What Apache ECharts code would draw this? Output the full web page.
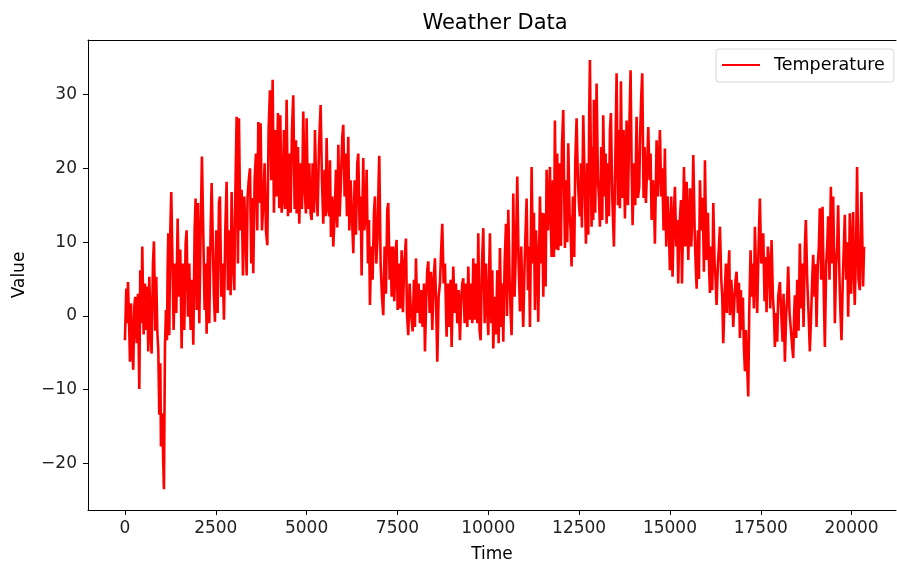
<!DOCTYPE html>
<html>
<head>
<meta charset="utf-8">
<title>Weather Data</title>
<script src="https://cdn.jsdelivr.net/npm/echarts@6/dist/echarts.min.js"></script>
<style>
  html, body { margin: 0; padding: 0; background: #fff; }
  #chart { width: 897px; height: 568px; }
</style>
</head>
<body>
<div id="chart"></div>
<script>
// sample index (time) and temperature
var times = [
  0,37,64,83,119,138,165,202,229,257,284,321,358,395,422,450,477,514,551,587,
  615,642,670,706,734,771,798,835,862,890,918,945,973,991,1028,1055,1073,1101,1129,1156,
  1174,1193,1220,1248,1275,1312,1340,1376,1413,1450,1486,1523,1560,1596,1633,1670,1697,1734,1771,1807,
  1844,1881,1918,1945,1973,2009,2046,2083,2119,2156,2193,2220,2248,2285,2321,2358,2386,2413,2450,2477,
  2514,2551,2587,2615,2652,2688,2725,2762,2798,2835,2872,2908,2936,2973,3009,3037,3074,3110,3138,3175,
  3211,3248,3285,3321,3349,3376,3404,3441,3477,3514,3532,3569,3606,3642,3670,3707,3734,3771,3808,3844,
  3881,3918,3954,3991,4028,4065,4101,4138,4175,4211,4248,
  4276,4312,4340,4376,4413,4450,4487,4523,4560,4597,4633,4670,4707,4725,4762,4798,4835,4872,4908,4945,
  4982,5000,5037,5074,5110,5138,5165,5202,5230,5266,5303,5340,5386,5422,5459,5496,5523,5551,5587,5624,
  5643,5670,5707,5734,5771,5808,5844,5872,5909,5945,5982,6009,6046,6074,6110,6147,6175,6211,6248,6285,
  6321,6358,6395,6422,6459,6486,6514,6541,6560,6587,6624,6652,6688,6716,6743,6780,6817,6853,6881,6917,
  6954,6982,7000,7037,7074,7110,7147,7184,7220,7248,7285,7312,7340,7376,7413,7450,7477,7505,7541,7578,
  7615,7651,7688,7734,7762,7798,7835,7872,7918,7954,7982,8009,8046,8083,8120,8156,8193,8230,8257,8294,
  8321,8349,8386,8422,8459,8496,8532,8569,8597,8633,8670,8707,8734,8771,8808,8853,8890,8927,8964,8991,
  9019,9037,9074,9110,9147,9184,9220,9257,9285,9312,9349,9386,9422,9450,9486,9523,9560,9587,9624,9661,
  9697,9725,9761,
  9790,9826,9863,9900,9936,9973,10001,10028,10046,10083,10111,10138,10175,10212,10248,10285,10321,10358,10386,10413,
  10450,10487,10514,10551,10587,10615,10642,10670,10688,10725,10762,10798,10835,10872,10908,10936,10963,11000,11028,11055,
  11092,11119,11147,11174,11193,11229,11257,11284,11312,11348,11376,11403,11422,11458,11486,11514,11550,11578,11605,11642,
  11669,11697,11724,11743,11779,11807,11834,11871,11899,11926,11963,11999,12027,12064,12091,12110,12146,12174,12201,12238,
  12266,12293,12330,12366,12394,12431,12467,12495,12522,12550,12577,12614,12651,12688,12724,12752,12779,12798,12825,12843,
  12871,12889,12908,12944,12981,13018,13045,13073,13109,13137,13164,13201,13229,13256,13293,13320,13348,13375,13412,13458,
  13495,13532,13568,13596,13623,13651,13687,13724,13761,13788,13807,13843,13880,13917,13944,13972,14008,14045,14082,14119,
  14155,14183,14210,14238,14274,14302,14339,14375,14403,14440,14467,14495,14531,14559,14586,14614,14632,14669,14696,14724,
  14761,14788,14825,14861,14898,14935,14972,14999,15036,15072,15109,15137,15173,15201,15228,15256,
  15304,15331,15359,15386,15423,15460,15505,15551,15588,15615,15643,15680,15707,15735,15771,15799,15826,15863,15900,15936,
  15964,15991,16010,16046,16074,16101,16138,16165,16193,16229,16257,16284,16321,16348,16376,16413,16440,16468,16504,16541,
  16568,16596,16633,16651,16688,16715,16743,16779,16807,16834,16871,16899,16926,16953,16981,17008,17036,17063,17091,17118,
  17136,17155,17182,17219,17247,17274,17311,17338,17375,17402,17439,17476,17512,17540,17568,17604,17632,17659,17696,17733,
  17760,17797,17834,17861,17889,17925,17953,17980,18026,18063,18100,18127,18164,18200,18228,18255,18292,18329,18365,18393,
  18420,18439,18475,18503,18540,18576,18613,18640,18677,18714,18741,18778,18815,18851,18888,18915,18943,18980,19007,19035,
  19071,19099,19126,19163,19200,19236,19264,19300,19328,19355,19392,19429,19456,19493,19520,19539,19575,19603,19630,19667,
  19694,19722,19758,19786,19813,19850,19877,19905,19932,19950,19987,20014,20042,20069,20087,20124,20151,20188,20225,20252,
  20270,20298,20316,20343
];

var temps = [
  -3.3,3.7,-1.0,4.6,-1.9,-6.2,1.7,-4.6,-7.3,1.3,2.6,-3.7,3.0,-9.9,6.2,-1.0,9.4,-2.5,4.4,-1.9,
  4.0,-4.8,5.3,-1.9,-5.1,7.1,10.1,-2.0,5.3,-2.1,-4.6,-13.4,-6.4,-17.7,-13.2,-20.0,-23.5,-4.2,0.8,-3.3,
  6.2,11.2,-2.6,11.6,16.8,16.8,-1.9,7.1,0.4,13.2,2.6,9.0,-4.4,7.1,-1.9,9.8,11.6,-0.1,7.1,-1.9,
  4.9,-3.9,11.6,15.9,0.8,15.3,-1.0,11.6,21.6,21.4,0.8,7.1,-2.4,9.4,-1.0,11.6,18.0,18.2,2.6,-0.8,
  11.6,0.4,15.3,16.2,2.6,7.1,-0.5,11.6,18.2,3.5,11.6,2.8,16.8,7.1,3.5,16.2,27.0,7.1,26.8,11.6,
  17.1,5.5,16.2,10.7,5.5,16.2,18.2,20.0,7.1,16.0,5.8,18.4,22.0,11.6,26.3,15.3,26.1,11.6,15.3,20.7,
  11.6,9.6,25.2,30.6,18.4,32.0,14.0,25.2,16.2,27.5,14.6,
  27.2,14.0,15.3,25.2,14.5,29.3,13.5,22.0,14.0,25.2,29.9,14.5,23.8,13.9,22.9,12.5,20.7,14.5,27.7,17.1,
  13.9,26.8,14.5,20.7,13.9,13.0,20.7,14.0,25.2,17.1,13.5,22.9,28.6,18.4,12.5,19.8,13.5,24.1,14.5,13.5,
  21.1,10.7,16.2,9.4,13.5,19.8,12.0,23.2,13.5,18.4,24.3,25.9,16.2,22.0,13.5,24.3,11.6,18.4,13.5,8.5,
  18.4,11.0,20.7,22.0,11.6,16.2,5.5,16.2,21.4,11.6,13.9,19.8,7.1,13.0,1.5,9.4,4.9,13.9,16.2,7.1,
  10.7,18.4,21.7,7.1,2.6,0.1,9.4,3.0,14.4,15.3,4.9,9.4,2.6,9.4,2.0,8.9,10.3,0.8,7.1,1.0,
  8.9,0.5,7.1,10.5,0.4,-2.6,4.4,0.4,-2.1,4.9,-1.5,7.8,0.4,4.4,-1.0,3.5,-1.5,4.4,-4.8,2.6,
  6.2,7.4,0.4,6.0,-1.9,4.9,7.8,0.4,-6.2,2.6,4.4,9.4,12.5,4.4,7.1,-2.8,4.4,-1.5,4.9,-4.2,
  2.6,6.7,0.4,4.4,-1.0,3.5,-3.3,2.6,4.4,5.1,-1.0,4.4,-1.5,6.7,-0.5,4.4,-1.0,7.8,-0.5,7.1,
  -1.0,11.2,-2.0,
  -3.3,7.1,11.9,-1.0,7.1,0.4,-2.6,7.1,11.2,-1.0,6.2,-4.4,2.6,-2.5,6.2,-3.7,9.2,-1.5,4.4,-3.5,
  7.1,12.5,0.0,14.4,4.9,0.4,-2.6,7.1,16.6,2.6,9.4,18.9,7.1,0.6,9.4,2.6,-1.5,7.1,11.6,15.9,
  3.5,9.4,-1.5,11.6,20.2,7.1,14.0,0.8,11.6,7.1,-0.8,9.4,16.2,7.1,14.0,2.6,13.9,4.0,19.8,11.6,
  15.3,20.2,11.6,8.0,18.4,8.0,26.5,9.0,22.0,8.9,20.7,9.5,22.9,27.9,16.2,9.2,18.4,10.0,23.4,13.9,
  11.6,6.7,16.2,8.0,20.7,26.8,18.4,15.3,13.5,20.7,12.0,27.2,18.4,9.8,20.7,11.0,27.5,34.7,20.7,12.1,
  22.9,13.0,29.3,14.0,31.5,18.4,16.2,12.1,22.9,13.0,27.2,16.2,22.0,12.5,20.7,13.5,25.2,27.5,16.2,9.4,
  20.7,32.9,15.0,25.2,14.6,31.8,16.0,25.2,13.2,20.7,26.5,15.0,25.2,33.3,20.7,12.3,20.7,15.0,27.0,16.0,
  17.5,25.2,29.7,32.9,16.0,22.9,15.3,20.7,25.6,18.4,22.0,13.0,18.4,16.2,9.8,18.4,23.8,16.2,20.7,25.2,
  16.2,20.0,11.6,22.7,9.4,16.2,11.6,6.2,16.2,5.3,13.9,17.5,9.4,13.0,4.4,11.6,
  15.7,4.4,11.6,20.2,9.4,18.2,7.6,17.3,9.4,13.9,21.8,11.6,7.1,3.7,11.6,5.0,18.4,11.6,16.0,6.0,
  21.1,11.6,7.6,14.0,7.1,3.1,9.4,3.5,15.3,7.1,4.9,1.5,7.1,9.4,12.1,4.9,2.6,-3.7,2.6,7.1,
  0.4,4.9,8.9,0.1,4.9,2.6,-1.5,2.6,4.9,6.0,0.4,4.5,-3.0,3.5,-1.9,2.5,-4.2,-7.5,-1.9,-6.4,
  -8.2,-10.9,0.4,8.9,2.6,7.1,1.0,12.1,4.9,0.4,9.4,15.9,7.1,9.4,11.2,2.0,8.0,0.5,9.4,7.1,
  1.0,10.3,2.6,0.4,-4.2,0.4,-3.5,2.6,4.6,0.4,-3.5,3.0,-6.2,0.4,2.6,6.7,0.4,-1.9,-4.2,-5.7,
  0.4,2.8,-3.0,4.9,-2.0,9.8,1.0,7.1,-1.5,9.4,13.0,4.9,0.4,-4.8,0.4,4.9,8.3,2.6,7.0,-1.5,
  7.1,9.4,14.6,4.9,14.8,2.6,-4.2,7.1,9.4,13.5,4.9,17.5,7.1,16.2,7.1,-1.0,7.1,9.4,15.0,4.9,
  0.4,-3.3,4.9,9.4,13.7,4.9,10.0,-0.1,7.1,13.9,3.0,9.4,14.1,4.9,1.5,9.4,20.2,5.0,3.5,11.6,
  16.8,9.4,4.0,9.4
];

var xTicks = [0, 2500, 5000, 7500, 10000, 12500, 15000, 17500, 20000];
var yTicks = [-20, -10, 0, 10, 20, 30];

var points = times.map(function (t, i) { return [t, temps[i]]; });

var font = 'DejaVu Sans';
var xMin = -1017, xMax = 21222;
var chart = echarts.init(document.getElementById('chart'));

chart.setOption({
  animation: false,
  backgroundColor: '#fff',
  textStyle: { fontFamily: font },
  title: {
    text: 'Weather Data',
    left: 490,
    top: 8,
    textAlign: 'center',
    textStyle: { fontFamily: font, fontSize: 21, fontWeight: 'normal', color: '#000' }
  },
  legend: {
    data: ['Temperature'],
    left: 716,
    top: 49,
    icon: 'rect',
    itemWidth: 38,
    itemHeight: 2,
    padding: [7, 9, 8, 6],
    borderColor: '#d6d6d6',
    borderWidth: 1,
    borderRadius: 3,
    backgroundColor: 'rgba(255,255,255,0.8)',
    textStyle: { fontFamily: font, fontSize: 17.5, color: '#000', padding: [0, 0, 0, 9] }
  },
  grid: {
    left: 88,
    right: 1,
    top: 40,
    bottom: 58,
    show: false
  },
  xAxis: [{
    type: 'value',
    min: xMin,
    max: xMax,
    name: 'Time',
    nameLocation: 'middle',
    nameGap: 36,
    nameTextStyle: { fontFamily: font, fontSize: 17, color: '#000' },
    splitLine: { show: false },
    axisLine: { show: true, onZero: false, lineStyle: { color: '#000', width: 1 } },
    axisTick: { show: true, length: 5, lineStyle: { color: '#000' }, customValues: xTicks },
    axisLabel: {
      fontFamily: font, fontSize: 17, color: '#222', margin: 10,
      customValues: xTicks,
      formatter: function (v) { return String(v); }
    }
  }, {
    // top spine only
    type: 'value',
    position: 'top',
    min: xMin,
    max: xMax,
    splitLine: { show: false },
    axisLine: { show: true, onZero: false, lineStyle: { color: '#000', width: 1 } },
    axisTick: { show: false },
    axisLabel: { show: false }
  }],
  yAxis: {
    type: 'value',
    min: -26.3,
    max: 37.4,
    name: 'Value',
    nameLocation: 'middle',
    nameGap: 60,
    nameRotate: 90,
    nameTextStyle: { fontFamily: font, fontSize: 17, color: '#000' },
    splitLine: { show: false },
    axisLine: { show: true, onZero: false, lineStyle: { color: '#000', width: 1 } },
    axisTick: { show: true, length: 5, lineStyle: { color: '#000' }, customValues: yTicks },
    axisLabel: {
      fontFamily: font, fontSize: 17, color: '#222', margin: 11,
      customValues: yTicks,
      formatter: function (v) { return v < 0 ? '\u2212' + (-v) : String(v); }
    }
  },
  series: [{
    name: 'Temperature',
    type: 'line',
    xAxisIndex: 0,
    data: points,
    showSymbol: false,
    symbol: 'none',
    sampling: null,
    color: '#ff0000',
    lineStyle: { color: '#ff0000', width: 2.6 }
  }]
});
</script>
</body>
</html>
